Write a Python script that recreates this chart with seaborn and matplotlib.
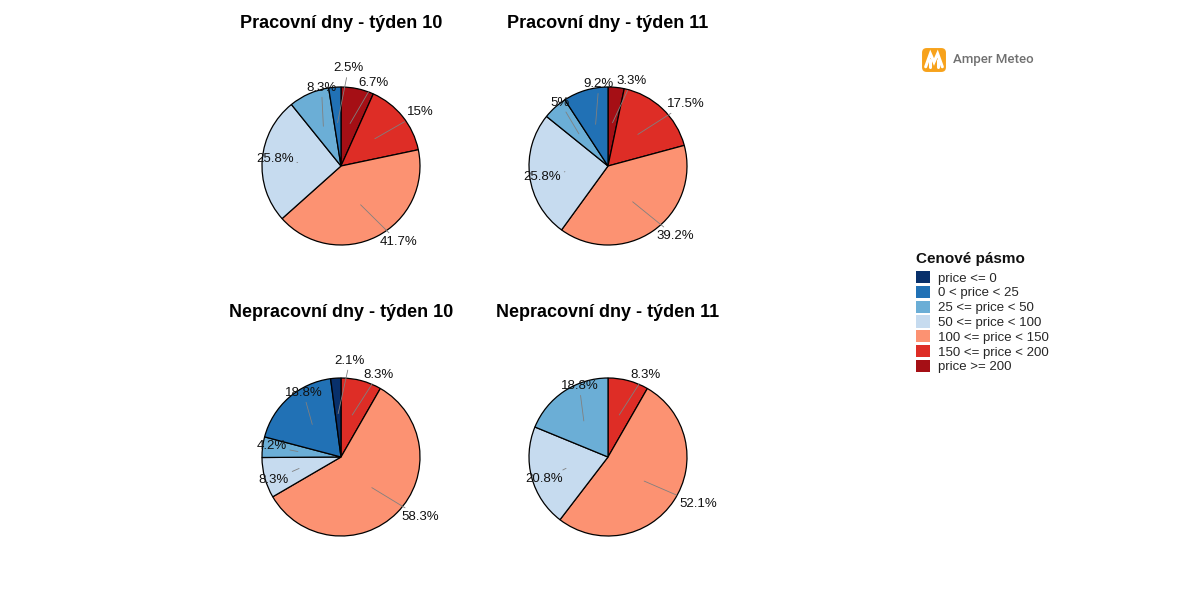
import numpy as np
import matplotlib
matplotlib.use("Agg")
import matplotlib.pyplot as plt
from matplotlib.patches import Patch, FancyBboxPatch
import seaborn as sns

# Styl
sns.set_theme(style="white")
plt.rcParams["font.family"] = ["Liberation Sans", "DejaVu Sans"]

# Data (podíl hodin v cenovém pásmu, %)
categories = ["price <= 0", "0 < price < 25", "25 <= price < 50", "50 <= price < 100",
              "100 <= price < 150", "150 <= price < 200", "price >= 200"]
colors = ["#08306B", "#2171B5", "#6BAED6", "#C6DBEF", "#FC9272", "#DE2D26", "#A50F15"]

prac_10 = [0, 2.5, 8.3, 25.8, 41.7, 15, 6.7]
prac_11 = [0, 9.2, 5, 25.8, 39.2, 17.5, 3.3]
neprac_10 = [2.1, 18.8, 4.2, 8.3, 58.3, 8.3, 0]
neprac_11 = [0, 0, 18.8, 20.8, 52.1, 8.3, 0]

titles = ["Pracovní dny - týden 10", "Pracovní dny - týden 11",
          "Nepracovní dny - týden 10", "Nepracovní dny - týden 11"]
series = [prac_10, prac_11, neprac_10, neprac_11]

W, H = 1200, 600
R_PX = 79
LABEL_PT = 9.5
centers = [(341, 166), (608, 166), (341, 457), (608, 457)]
title_y = [23, 23, 313, 313]


def text_width(s):
    # přibližná šířka textu (Arial metrika) v jednotkách poloměru
    em = {".": 0.278, "%": 0.889}
    px = sum(em.get(ch, 0.556) for ch in s) * LABEL_PT * 100 / 72
    return px / R_PX


def repel(pos, ang, widths, vals, h=0.17, step=0.02, n_iter=200):
    # menší popisek se při překryvu odsouvá radiálně ven
    pos = pos.copy()
    for _ in range(n_iter):
        moved = False
        for i in range(len(pos)):
            for j in range(i + 1, len(pos)):
                ci = pos[i, 0] + widths[i] / 2
                cj = pos[j, 0] + widths[j] / 2
                ox = (widths[i] + widths[j]) / 2 + 0.02 - abs(cj - ci)
                oy = h - abs(pos[j, 1] - pos[i, 1])
                if ox > 0 and oy > 0:
                    moved = True
                    k = i if vals[i] < vals[j] else j
                    pos[k, 0] += step * np.sin(ang[k])
                    pos[k, 1] += step * np.cos(ang[k])
        if not moved:
            break
    return pos


fig = plt.figure(figsize=(12, 6), dpi=100)

for (cx, cy), vals, title, ty in zip(centers, series, titles, title_y):
    half = 1.5 * R_PX
    ax = fig.add_axes([(cx - half) / W, (H - cy - half) / H, 2 * half / W, 2 * half / H])

    # po směru hodin od 12 hodin, od nejvyššího pásma
    idx = [k for k in range(len(categories) - 1, -1, -1) if vals[k] > 0]
    v = [vals[k] for k in idx]
    c = [colors[k] for k in idx]
    ax.pie(v, colors=c, startangle=90, counterclock=False, radius=1,
           wedgeprops=dict(edgecolor="black", linewidth=0.9))
    ax.set_xlim(-1.5, 1.5)
    ax.set_ylim(-1.5, 1.5)
    ax.set_aspect("equal")
    ax.axis("off")

    # popisky s vodicími čarami
    labels = [f"{x:g}%" for x in v]
    widths = np.array([text_width(s) for s in labels])
    frac = np.cumsum(v) / np.sum(v)
    mids = frac - np.array(v) / np.sum(v) / 2
    ang = 2 * np.pi * mids
    anchor = np.column_stack([0.55 * np.sin(ang), 0.55 * np.cos(ang)])
    lab = np.column_stack([1.08 * np.sin(ang), 1.08 * np.cos(ang)])
    lab = repel(lab, ang, widths, v)
    for k in range(len(v)):
        ax.annotate(labels[k], xy=anchor[k], xytext=lab[k], ha="left", va="center",
                    fontsize=LABEL_PT, color="#111111",
                    arrowprops=dict(arrowstyle="-", color="gray", lw=0.6,
                                    shrinkA=0, shrinkB=0))

    fig.text(cx / W, 1 - ty / H, title, ha="center", va="center",
             fontsize=13, fontweight="bold", color="black")

# Legenda
fig.text(916 / W, 1 - 259 / H, "Cenové pásmo", ha="left", va="center",
         fontsize=11, fontweight="bold", color="#111111")
handles = [Patch(facecolor=col, edgecolor="none") for col in colors]
leg = fig.legend(handles, categories, loc="upper left",
                 bbox_to_anchor=(916 / W, 1 - 271 / H), frameon=False, fontsize=9.5,
                 handlelength=1.05, handleheight=1.05,
                 handletextpad=0.6, labelspacing=0.09, borderaxespad=0, borderpad=0)

# Logo
ax_logo = fig.add_axes([921 / W, 1 - 73 / H, 26 / W, 26 / H])
ax_logo.set_xlim(0, 1)
ax_logo.set_ylim(0, 1)
ax_logo.axis("off")
ax_logo.add_patch(FancyBboxPatch((0.04, 0.04), 0.92, 0.92,
                                 boxstyle="round,pad=0,rounding_size=0.18",
                                 facecolor="#F7A21B", edgecolor="none"))
ax_logo.plot([0.18, 0.36, 0.5, 0.64, 0.82], [0.24, 0.74, 0.42, 0.74, 0.24],
             color="white", lw=2.2, solid_joinstyle="miter")
ax_logo.plot([0.36, 0.36], [0.24, 0.5], color="white", lw=2.2)
ax_logo.plot([0.64, 0.64], [0.24, 0.5], color="white", lw=2.2)
fig.text(953 / W, 1 - 60 / H, "Amper Meteo", ha="left", va="center",
         fontsize=9.5, color="#707070", fontweight="medium",
         family=["Roboto", "DejaVu Sans"])

fig.savefig("out.png", dpi=100)
